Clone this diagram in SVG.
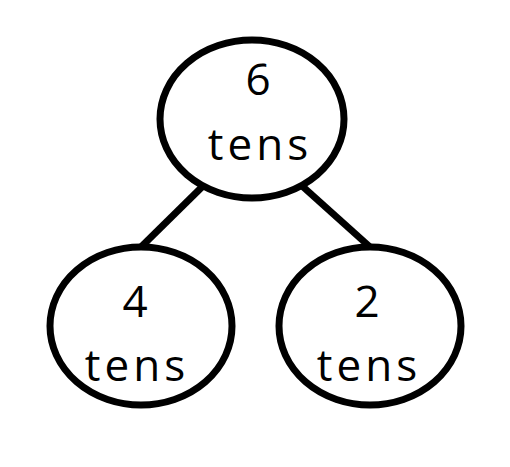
<svg xmlns="http://www.w3.org/2000/svg" width="510" height="467" viewBox="0 0 510 467">
<style>
.n{fill:#fff;stroke:#000;stroke-width:7}
.c{stroke:#000;stroke-width:7;fill:none}
.t{font-family:"Open Sans","Noto Sans",sans-serif;font-size:44px;fill:#000;text-anchor:middle;letter-spacing:4px}
</style>
<rect width="510" height="467" fill="#fff"/>
<g id="connectors">
<line class="c" x1="204" y1="185" x2="141" y2="247"/>
<line class="c" x1="301" y1="185" x2="370" y2="247"/>
</g>
<g id="top">
<ellipse class="n" cx="252" cy="119" rx="92" ry="79"/>
<text class="t" x="260" y="95">6</text>
<text class="t" x="260" y="160">tens</text>
</g>
<g id="left">
<ellipse class="n" cx="141" cy="326" rx="91" ry="79"/>
<text class="t" x="137" y="317">4</text>
<text class="t" x="137" y="381">tens</text>
</g>
<g id="right">
<ellipse class="n" cx="370" cy="326" rx="91" ry="79"/>
<text class="t" x="369" y="317">2</text>
<text class="t" x="369" y="381">tens</text>
</g>
</svg>
